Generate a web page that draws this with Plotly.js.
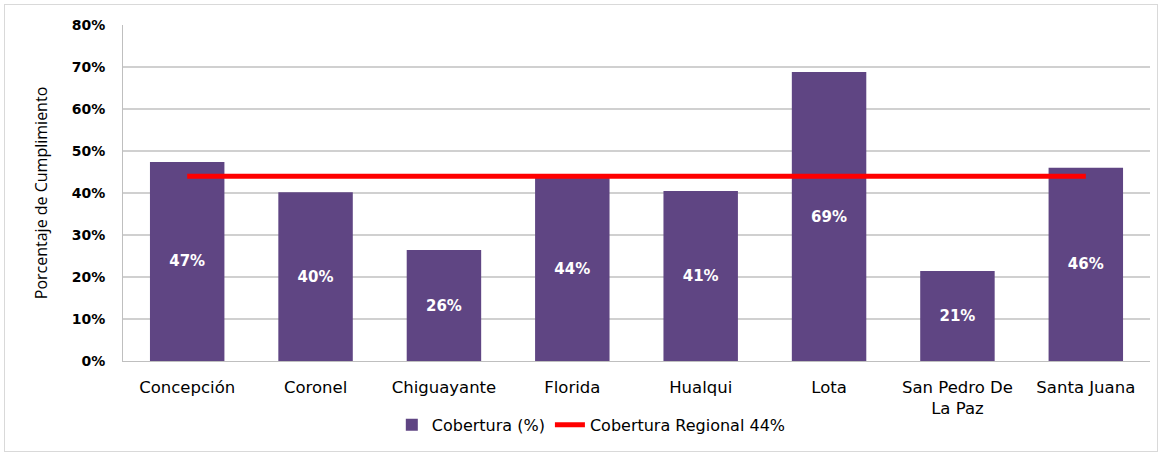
<!DOCTYPE html>
<html><head><meta charset="utf-8">
<script src="https://cdn.plot.ly/plotly-3.0.1.min.js"></script>
<style>html,body{margin:0;padding:0;background:#fff}#frame{position:absolute;left:4px;top:4px;width:1152px;height:446px;border:1px solid #d9d9d9}#chart{position:absolute;left:0;top:0;width:1162px;height:455px}</style>
</head><body><div id="frame"></div><div id="chart"></div>
<script>
const categories = ["Concepción","Coronel","Chiguayante","Florida","Hualqui","Lota","San Pedro De<br>La Paz","Santa Juana"];
const coverage = [0.474, 0.402, 0.264, 0.440, 0.405, 0.688, 0.214, 0.460];
const coverageLabels = ["47%","40%","26%","44%","41%","69%","21%","46%"];
const regional = [0.44, 0.44, 0.44, 0.44, 0.44, 0.44, 0.44, 0.44];
const yTicks = [0,0.1,0.2,0.3,0.4,0.5,0.6,0.7,0.8];
const yTickLabels = ["0%","10%","20%","30%","40%","50%","60%","70%","80%"];

const font = "DejaVu Sans, Verdana, sans-serif";
const data = [
  {type:"bar", name:"Cobertura (%)", x:categories, y:coverage, text:coverageLabels,
   textposition:"inside", insidetextanchor:"middle", textangle:0,
   textfont:{family:font, size:15, color:"#ffffff", weight:"bold"},
   marker:{color:"#5f4583", line:{width:0}}, hoverinfo:"x+y"},
  {type:"scatter", mode:"lines", name:"Cobertura Regional 44%", x:categories, y:regional,
   line:{color:"#ff0000", width:5}}
];
const layout = {
  width:1162, height:455, paper_bgcolor:"rgba(0,0,0,0)", plot_bgcolor:"#fff",
  margin:{l:123, r:12, t:25, b:94},
  bargap:0.42,
  font:{family:font, color:"#000"},
  xaxis:{tickfont:{family:font, size:16.5, color:"#000"}, showline:true, linecolor:"#bfbfbf", linewidth:1,
         ticks:"outside", ticklen:11, tickcolor:"rgba(0,0,0,0)", showgrid:false, automargin:false},
  yaxis:{range:[0,0.8], tickvals:yTicks, ticktext:yTickLabels,
         tickfont:{family:font, size:14, color:"#000", weight:"bold"},
         showgrid:true, gridcolor:"#d0d0d0", gridwidth:1.5, showline:true, linecolor:"#bfbfbf",
         zeroline:false, ticks:"outside", ticklen:14, tickcolor:"rgba(0,0,0,0)", automargin:false,
         title:{text:"Porcentaje de Cumplimiento", font:{family:"Open Sans, sans-serif", size:16, color:"#000"}, standoff:20}},
  legend:{orientation:"h", x:0.456, xanchor:"center", y:-0.19, yanchor:"middle",
          font:{family:font, size:16, color:"#000"}, traceorder:"normal"},
  showlegend:true
};
Plotly.newPlot("chart", data, layout, {displayModeBar:false, staticPlot:true});
</script></body></html>
